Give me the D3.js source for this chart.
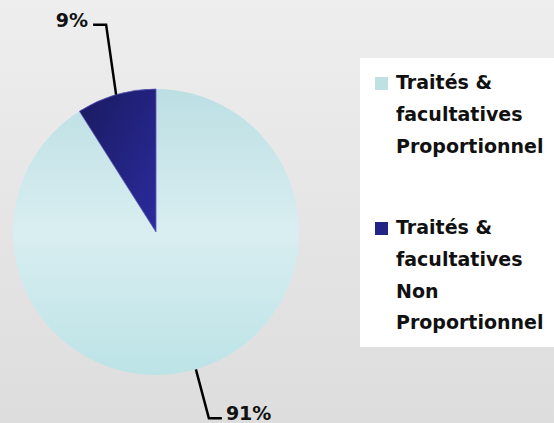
<!DOCTYPE html>
<html>
<head>
<meta charset="utf-8">
<script src="https://cdn.jsdelivr.net/npm/d3@7"></script>
<style>
  body { margin: 0; padding: 0; }
  svg { display: block; }
</style>
</head>
<body>
<div id="chart"></div>
<script>
// values
var categories = ["Traités & facultatives Proportionnel", "Traités & facultatives Non Proportionnel"];
var shares = [91, 9];
var legendLines = [
  ["Traités &", "facultatives", "Proportionnel"],
  ["Traités &", "facultatives", "Non", "Proportionnel"]
];

var w = 554, h = 423;
var cx = 156, cy = 232, radius = 143;

var svg = d3.select("#chart").append("svg")
  .attr("width", w)
  .attr("height", h);

var defs = svg.append("defs");

var bg = defs.append("linearGradient").attr("id", "bg")
  .attr("x1", 0).attr("y1", 0).attr("x2", 0).attr("y2", 1);
bg.append("stop").attr("offset", "0%").attr("stop-color", "#eeeeee");
bg.append("stop").attr("offset", "100%").attr("stop-color", "#dddddd");

var light = defs.append("linearGradient").attr("id", "lightFill")
  .attr("x1", 0).attr("y1", 0).attr("x2", 0).attr("y2", 1);
light.append("stop").attr("offset", "0%").attr("stop-color", "#bcdfe3");
light.append("stop").attr("offset", "50%").attr("stop-color", "#d9eef1");
light.append("stop").attr("offset", "100%").attr("stop-color", "#bce3e6");

var dark = defs.append("linearGradient").attr("id", "darkFill")
  .attr("x1", 0).attr("y1", 0).attr("x2", 1).attr("y2", 1);
dark.append("stop").attr("offset", "0%").attr("stop-color", "#1a1a60");
dark.append("stop").attr("offset", "100%").attr("stop-color", "#2b2b9e");

var fills = ["url(#lightFill)", "url(#darkFill)"];
var swatch = ["#bfe1e4", "#232385"];

svg.append("rect")
  .attr("width", w).attr("height", h)
  .attr("fill", "url(#bg)");

var data = categories.map(function (c, i) { return { name: c, value: shares[i] }; });

var pie = d3.pie().sort(null).value(function (d) { return d.value; });
var arc = d3.arc().innerRadius(0).outerRadius(radius);
var arcs = pie(data);

var g = svg.append("g").attr("transform", "translate(" + cx + "," + cy + ")");

g.selectAll("path.slice")
  .data(arcs)
  .enter().append("path")
  .attr("class", "slice")
  .attr("d", arc)
  .attr("fill", function (d, i) { return fills[i]; })
  .attr("stroke", function (d, i) { return i == 1 ? "#5a5ab8" : "none"; })
  .attr("stroke-width", 0.8);

// leader lines + percentage labels
// elbow offset from arc edge point, tail direction
var leader = [
  { dx: 13, dy: 49, tail: 13 },
  { dx: -10, dy: -70, tail: -13 }
];

arcs.forEach(function (a, i) {
  var mid = (a.startAngle + a.endAngle) / 2;
  var px = Math.sin(mid) * radius;
  var py = -Math.cos(mid) * radius;
  var ex = px + leader[i].dx, ey = py + leader[i].dy;
  var tx = ex + leader[i].tail;
  g.append("polyline")
    .attr("points", [[px, py], [ex, ey], [tx, ey]].map(function (p) { return p.join(","); }).join(" "))
    .attr("fill", "none")
    .attr("stroke", "#000")
    .attr("stroke-width", 2.5);
  g.append("text")
    .attr("x", tx + (leader[i].tail > 0 ? 4 : -5))
    .attr("y", ey + (i == 0 ? 2 : 2.5))
    .attr("text-anchor", leader[i].tail > 0 ? "start" : "end")
    .attr("font-family", "DejaVu Sans")
    .attr("font-weight", "bold")
    .attr("font-size", "19px")
    .attr("fill", "#111")
    .text(d3.format(".0%")(a.data.value / 100));
});

// legend
var lg = svg.append("g").attr("transform", "translate(360,58)");
lg.append("rect")
  .attr("width", 200).attr("height", 289)
  .attr("fill", "#fff");

var lineH = 31.8;
var entryY = [31, 176];

legendLines.forEach(function (lines, i) {
  var item = lg.append("g").attr("transform", "translate(0," + entryY[i] + ")");
  item.append("rect")
    .attr("x", 15).attr("y", -12)
    .attr("width", 13).attr("height", 13)
    .attr("fill", swatch[i]);
  item.selectAll("text")
    .data(lines)
    .enter().append("text")
    .attr("x", 36)
    .attr("y", function (d, j) { return j * lineH; })
    .attr("font-family", "DejaVu Sans")
    .attr("font-weight", "bold")
    .attr("font-size", "19px")
    .attr("fill", "#111")
    .text(function (d) { return d; });
});
</script>
</body>
</html>
